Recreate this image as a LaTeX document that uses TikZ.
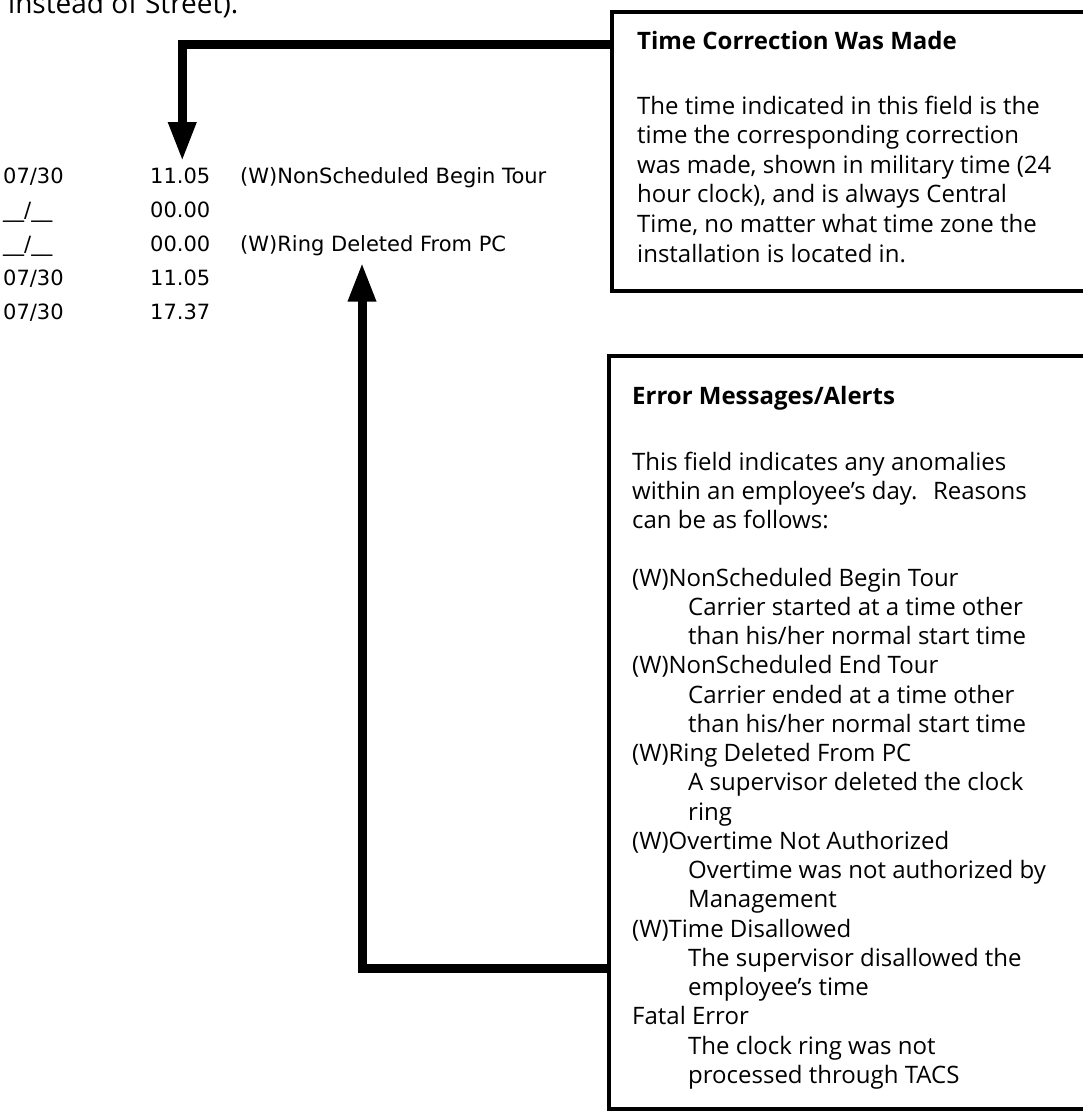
\documentclass[tikz,border=0pt]{standalone}
\usepackage{fontspec}
\setmainfont{Open Sans}
\newfontfamily\tablefont{DejaVu Sans}
\usetikzlibrary{arrows.meta}

\tikzset{
  notebox/.style={draw, rectangle, line width=4.5pt, outer sep=0pt, inner sep=0pt, anchor=north west},
  conn/.style={draw, line width=9pt, line join=miter, -{Triangle[width=26pt,length=39pt]}},
  cell/.style={anchor=base west, inner sep=0pt, font=\tablefont\fontsize{21}{25}\selectfont},
  boxtitle/.style={anchor=base west, inner sep=0pt, font=\bfseries\fontsize{24}{29}\selectfont},
  boxline/.style={anchor=base west, inner sep=0pt, font=\fontsize{24}{29}\selectfont},
  runin/.style={anchor=base west, inner sep=0pt, font=\fontsize{28}{32}\selectfont},
}

\begin{document}
\begin{tikzpicture}[x=1pt, y=-1pt]
  \clip (0,0) rectangle (1083,1113);
  \useasboundingbox (0,0) rectangle (1083,1113);

  % tail of the preceding paragraph
  \node[runin] (prevline) at (8,14) {instead of Street).};

  % clock ring listing
  \node[cell] (r1date) at (3,183)   {07/30};
  \node[cell] (r1time) at (150,183) {11.05};
  \node[cell] (r1msg)  at (240,183) {(W)NonScheduled Begin Tour};
  \node[cell] (r2date) at (3,217)   {\_\_/\_\_};
  \node[cell] (r2time) at (150,217) {00.00};
  \node[cell] (r3date) at (3,251)   {\_\_/\_\_};
  \node[cell] (r3time) at (150,251) {00.00};
  \node[cell] (r3msg)  at (240,251) {(W)Ring Deleted From PC};
  \node[cell] (r4date) at (3,285)   {07/30};
  \node[cell] (r4time) at (150,285) {11.05};
  \node[cell] (r5date) at (3,319)   {07/30};
  \node[cell] (r5time) at (150,319) {17.37};

  % callout: time correction
  \node[notebox, minimum width=488pt, minimum height=279pt] (tcbox) at (612,12) {};
  \node[boxtitle] (tctitle) at (637,50) {Time Correction Was Made};
  \node[boxline] (tc1) at (637,114.0) {The time indicated in this field is the};
  \node[boxline] (tc2) at (637,143.6) {time the corresponding correction};
  \node[boxline] (tc3) at (637,173.2) {was made, shown in military time (24};
  \node[boxline] (tc4) at (637,202.8) {hour clock), and is always Central};
  \node[boxline] (tc5) at (637,232.4) {Time, no matter what time zone the};
  \node[boxline] (tc6) at (637,262.0) {installation is located in.};

  % callout: error messages
  \node[notebox, minimum width=491pt, minimum height=753pt] (ecbox) at (609,356) {};
  \node[boxtitle] (ectitle) at (632,404) {Error Messages/Alerts};
  \node[boxline] (ec1) at (632,470) {This field indicates any anomalies};
  \node[boxline] (ec2) at (632,499) {within an employee’s day.\hspace{0.3em} Reasons};
  \node[boxline] (ec3) at (632,528) {can be as follows:};
  \node[boxline] (ea0)  at (632,586.00)  {(W)NonScheduled Begin Tour};
  \node[boxline] (ea1)  at (688,615.25)  {Carrier started at a time other};
  \node[boxline] (ea2)  at (688,644.50)  {than his/her normal start time};
  \node[boxline] (ea3)  at (632,673.75)  {(W)NonScheduled End Tour};
  \node[boxline] (ea4)  at (688,703.00)  {Carrier ended at a time other};
  \node[boxline] (ea5)  at (688,732.25)  {than his/her normal start time};
  \node[boxline] (ea6)  at (632,761.50)  {(W)Ring Deleted From PC};
  \node[boxline] (ea7)  at (688,790.75)  {A supervisor deleted the clock};
  \node[boxline] (ea8)  at (688,820.00)  {ring};
  \node[boxline] (ea9)  at (632,849.25)  {(W)Overtime Not Authorized};
  \node[boxline] (ea10) at (688,878.50)  {Overtime was not authorized by};
  \node[boxline] (ea11) at (688,907.75)  {Management};
  \node[boxline] (ea12) at (632,937.00)  {(W)Time Disallowed};
  \node[boxline] (ea13) at (688,966.25)  {The supervisor disallowed the};
  \node[boxline] (ea14) at (688,995.50)  {employee’s time};
  \node[boxline] (ea15) at (632,1024.75) {Fatal Error};
  \node[boxline] (ea16) at (688,1054.00) {The clock ring was not};
  \node[boxline] (ea17) at (688,1083.25) {processed through TACS};

  % connectors from the callouts to the listing
  \draw[conn] ([yshift=-32.5pt]tcbox.north west) -| ([xshift=2pt,yshift=6pt]r1time.north);
  \draw[conn] ([yshift=-612pt]ecbox.north west) -| ([xshift=122pt,yshift=-7pt]r3msg.south west);
\end{tikzpicture}
\end{document}
